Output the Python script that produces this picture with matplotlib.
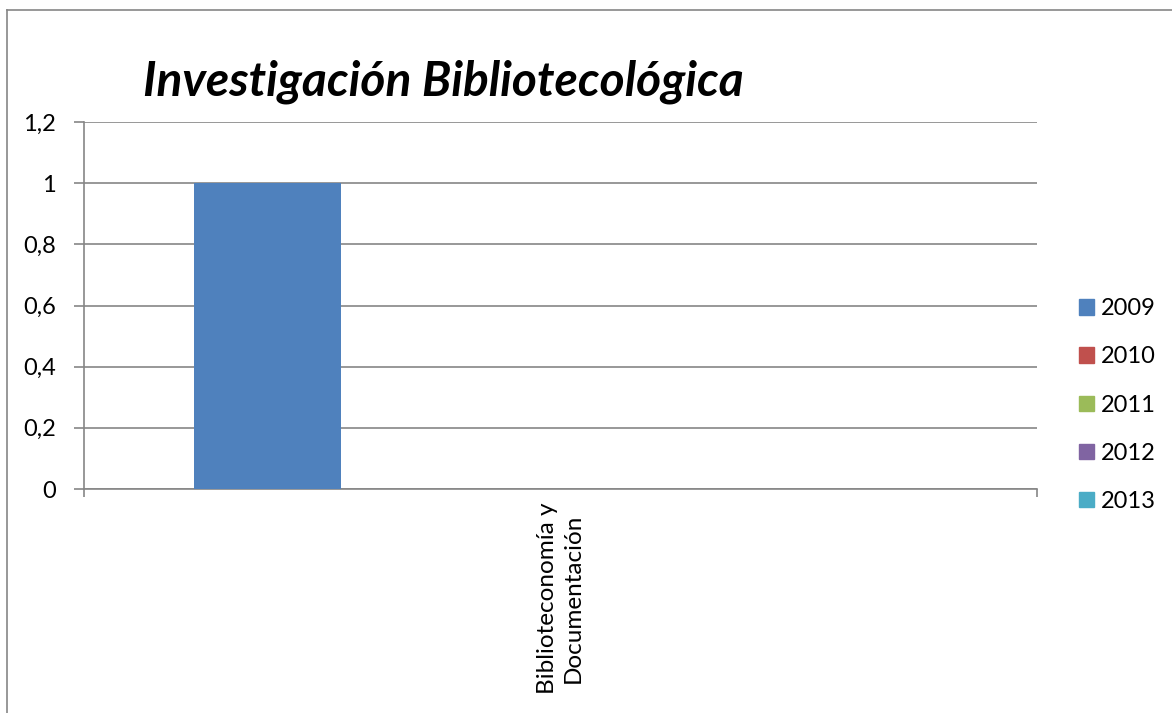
import matplotlib
matplotlib.use("Agg")
import matplotlib.pyplot as plt
import matplotlib.lines as mlines
from matplotlib.patches import Rectangle
import numpy as np

plt.rcParams['font.family'] = ['Lato', 'DejaVu Sans']

title = "Investigación Bibliotecológica"
categories = ["Biblioteconomía y\nDocumentación"]
series_names = ["2009", "2010", "2011", "2012", "2013"]
series_values = [[1], [0], [0], [0], [0]]
series_colors = ["#4F81BD", "#C0504D", "#9BBB59", "#8064A2", "#4BACC6"]
y_ticks = [0, 0.2, 0.4, 0.6, 0.8, 1.0, 1.2]
y_tick_labels = ["0", "0,2", "0,4", "0,6", "0,8", "1", "1,2"]

W, H = 1172, 713
fig = plt.figure(figsize=(W / 100, H / 100), dpi=100)
fig.patch.set_facecolor("white")

# outer chart border (top and left visible)
grey = "#868686"
fig.add_artist(mlines.Line2D([7 / W, 1], [1 - 10 / H, 1 - 10 / H], color=grey, lw=1.2, transform=fig.transFigure))
fig.add_artist(mlines.Line2D([7 / W, 7 / W], [0, 1 - 10 / H], color=grey, lw=1.2, transform=fig.transFigure))

ax = fig.add_axes([84 / W, 1 - 489 / H, (1037 - 84) / W, (489 - 122) / H])

n = len(series_names)
gap = 1.5
w = 1.0 / (n + gap)
x = np.arange(len(categories))
for i, (name, vals, col) in enumerate(zip(series_names, series_values, series_colors)):
    pos = x - 0.5 + gap * w / 2 + w * (i + 0.5)
    ax.bar(pos, vals, width=w, color=col, label=name, zorder=3)

ax.set_xlim(-0.5, len(categories) - 0.5)
ax.set_ylim(0, 1.2)
ax.set_yticks(y_ticks)
ax.set_yticklabels(y_tick_labels)
ax.yaxis.grid(True, color=grey, lw=1.2, zorder=0)
ax.set_axisbelow(True)

for s in ["top", "right"]:
    ax.spines[s].set_visible(False)
for s in ["left", "bottom"]:
    ax.spines[s].set_color(grey)
    ax.spines[s].set_linewidth(1.2)

FS = 17
ax.tick_params(axis="y", length=7.2, width=1.2, color=grey, pad=13, labelsize=FS)
ax.set_xticks(x)
ax.set_xticklabels(categories, rotation=90, ha="center", va="top", multialignment="center",
                   fontsize=17.5, linespacing=1.3)
ax.tick_params(axis="x", which="major", length=0, pad=10)
ax.set_xticks(np.arange(len(categories) + 1) - 0.5, minor=True)
ax.tick_params(axis="x", which="minor", length=6, width=1.2, color=grey)

handles = [Rectangle((0, 0), 1, 1, color=c) for c in series_colors]
fig.legend(handles, series_names, loc="center left", bbox_to_anchor=(1079 / W, 1 - 405 / H),
           frameon=False, fontsize=FS, handlelength=0.62, handleheight=0.62,
           handletextpad=0.3, labelspacing=1.15, borderaxespad=0, borderpad=0)

fig.text(143 / W, 1 - 95 / H, title, fontsize=34.5, fontweight="bold", fontstyle="italic",
         ha="left", va="baseline")

fig.savefig("out.png", dpi=100, facecolor="white")
